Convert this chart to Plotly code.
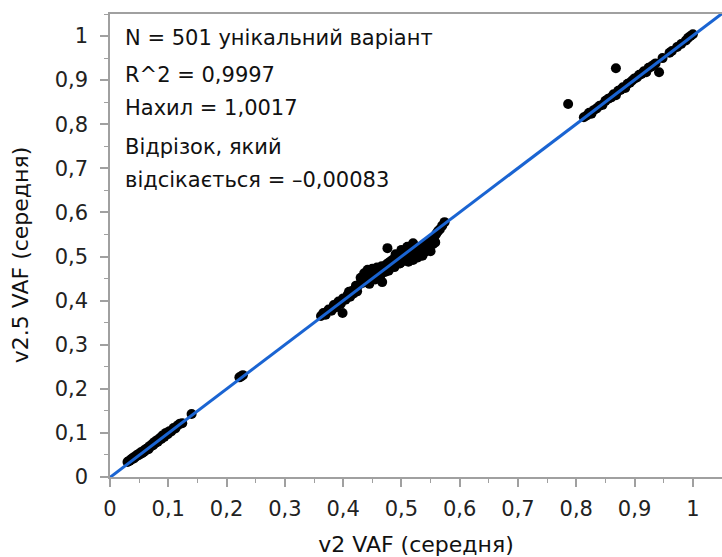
import plotly.graph_objects as go

# ---- data ----
low_x = [0.030, 0.032, 0.034, 0.036, 0.038, 0.040, 0.041, 0.043, 0.045, 0.046, 0.048, 0.050, 0.051,
         0.053, 0.055, 0.056, 0.058, 0.060, 0.061, 0.063, 0.065, 0.066, 0.068, 0.070, 0.072, 0.074,
         0.076, 0.078, 0.080, 0.082, 0.085, 0.088, 0.090, 0.093, 0.096, 0.099, 0.102, 0.105, 0.109,
         0.112, 0.116, 0.120, 0.124, 0.140, 0.222, 0.225, 0.228]
low_y = [0.034, 0.036, 0.037, 0.040, 0.041, 0.044, 0.042, 0.046, 0.047, 0.050, 0.049, 0.053, 0.051,
         0.056, 0.054, 0.058, 0.057, 0.062, 0.060, 0.064, 0.066, 0.063, 0.070, 0.069, 0.074, 0.072,
         0.079, 0.077, 0.083, 0.080, 0.088, 0.086, 0.094, 0.091, 0.100, 0.097, 0.104, 0.103, 0.111,
         0.110, 0.117, 0.121, 0.122, 0.143, 0.226, 0.228, 0.231]

mid_x = [0.362, 0.366, 0.370, 0.375, 0.380, 0.384, 0.388, 0.392, 0.396, 0.399, 0.400, 0.404, 0.408,
         0.412, 0.415, 0.418, 0.421, 0.424, 0.427, 0.430, 0.433, 0.436, 0.438, 0.440, 0.442, 0.444,
         0.446, 0.448, 0.450, 0.452, 0.454, 0.456, 0.458, 0.460, 0.462, 0.464, 0.467, 0.466, 0.468,
         0.470, 0.472, 0.474, 0.476, 0.476, 0.478, 0.480, 0.482, 0.484, 0.486, 0.488, 0.490, 0.492,
         0.494, 0.496, 0.498, 0.500, 0.502, 0.504, 0.506, 0.508, 0.510, 0.512, 0.514, 0.516, 0.518,
         0.520, 0.522, 0.524, 0.526, 0.528, 0.530, 0.532, 0.534, 0.536, 0.538, 0.540, 0.542, 0.544,
         0.546, 0.548, 0.550, 0.552, 0.554, 0.556, 0.558, 0.560, 0.563, 0.566, 0.570, 0.574,
         0.410, 0.422, 0.434, 0.445, 0.455, 0.463, 0.478, 0.488, 0.497, 0.505, 0.515, 0.525,
         0.535, 0.545, 0.490, 0.500, 0.510, 0.520]
mid_y = [0.365, 0.372, 0.368, 0.380, 0.377, 0.390, 0.385, 0.398, 0.393, 0.372, 0.405, 0.402, 0.414,
         0.409, 0.422, 0.416, 0.428, 0.421, 0.436, 0.452, 0.440, 0.462, 0.445, 0.455, 0.470, 0.448,
         0.460, 0.452, 0.472, 0.458, 0.466, 0.455, 0.475, 0.462, 0.470, 0.458, 0.442, 0.478, 0.466,
         0.474, 0.465, 0.482, 0.519, 0.470, 0.486, 0.474, 0.490, 0.478, 0.494, 0.482, 0.497, 0.486,
         0.490, 0.500, 0.485, 0.505, 0.490, 0.496, 0.508, 0.494, 0.502, 0.488, 0.510, 0.498, 0.504,
         0.492, 0.515, 0.500, 0.508, 0.498, 0.520, 0.505, 0.512, 0.502, 0.524, 0.510, 0.518, 0.530,
         0.515, 0.522, 0.512, 0.536, 0.528, 0.540, 0.532, 0.552, 0.558, 0.562, 0.570, 0.578,
         0.420, 0.434, 0.448, 0.438, 0.448, 0.452, 0.468, 0.476, 0.484, 0.492, 0.500, 0.510,
         0.520, 0.528, 0.505, 0.515, 0.522, 0.530]

high_x = [0.786, 0.813, 0.818, 0.822, 0.826, 0.830, 0.835, 0.840, 0.845, 0.850, 0.855, 0.860, 0.864,
          0.868, 0.868, 0.872, 0.876, 0.880, 0.884, 0.888, 0.892, 0.896, 0.900, 0.904, 0.908, 0.912,
          0.916, 0.920, 0.924, 0.928, 0.932, 0.936, 0.942, 0.948, 0.960, 0.964, 0.973, 0.980, 0.988,
          0.992, 0.996, 1.000]
high_y = [0.846, 0.816, 0.820, 0.826, 0.824, 0.832, 0.836, 0.842, 0.844, 0.853, 0.858, 0.861, 0.868,
          0.927, 0.866, 0.876, 0.878, 0.884, 0.882, 0.892, 0.894, 0.899, 0.904, 0.906, 0.912, 0.914,
          0.920, 0.918, 0.928, 0.930, 0.934, 0.938, 0.918, 0.950, 0.962, 0.966, 0.975, 0.982, 0.990,
          0.996, 1.000, 1.004]

slope = 1.0017
intercept = -0.00083
fit_x = [0.0, 1.06]

tick_vals = [0, 0.1, 0.2, 0.3, 0.4, 0.5, 0.6, 0.7, 0.8, 0.9, 1.0]
tick_text = ["0", "0,1", "0,2", "0,3", "0,4", "0,5", "0,6", "0,7", "0,8", "0,9", "1"]

stats_lines = ["N = 501 унікальний варіант", "R^2 = 0,9997", "Нахил = 1,0017",
               "Відрізок, який", "відсікається = –0,00083"]
stats_y = [0.995, 0.912, 0.837, 0.748, 0.673]

x_title = "v2 VAF (середня)"
y_title = "v2.5 VAF (середня)"

# ---- figure ----
FONT = "DejaVu Sans, Liberation Sans, sans-serif"
all_x = low_x + mid_x + high_x
all_y = low_y + mid_y + high_y

fig = go.Figure()
fig.add_trace(go.Scatter(x=all_x, y=all_y, mode="markers",
                         marker=dict(color="black", size=10, line=dict(width=0)),
                         showlegend=False, hoverinfo="skip"))
fig.add_trace(go.Scatter(x=fit_x, y=[slope * v + intercept for v in fit_x], mode="lines",
                         line=dict(color="#1a64d2", width=3), showlegend=False,
                         hoverinfo="skip"))

for txt, yy in zip(stats_lines, stats_y):
    fig.add_annotation(x=0.022, y=yy, xref="x", yref="y", text=txt, showarrow=False,
                       xanchor="left", yanchor="middle",
                       font=dict(family=FONT, size=21, color="#111"))

# y-axis title (placed as rotated text to match the reference position)
fig.add_annotation(x=0, xref="paper", xshift=-90, y=0.503, yref="y", text=y_title,
                   textangle=-90, showarrow=False, xanchor="center", yanchor="middle",
                   font=dict(family=FONT, size=22, color="#111"))

axis_common = dict(
    showgrid=False, zeroline=False, showline=True, linecolor="#a0a0a0", linewidth=1.5,
    ticks="outside", ticklen=8, tickwidth=1.5, tickcolor="#a0a0a0",
    tickvals=tick_vals, ticktext=tick_text,
    tickfont=dict(family=FONT, size=21, color="#222"),
    minor=dict(ticks="outside", ticklen=4, tickwidth=1.2, tickcolor="#a0a0a0", dtick=0.05,
               showgrid=False),
)

fig.update_xaxes(range=[0, 1.05], mirror=True, ticklabelstandoff=4, **axis_common,
                 title=dict(text=x_title, standoff=18,
                            font=dict(family=FONT, size=22, color="#111")))
fig.update_yaxes(range=[0, 1.05], mirror=False, ticklabelstandoff=8, **axis_common)

fig.update_layout(width=722, height=557, margin=dict(l=110, r=0, t=14, b=80),
                  plot_bgcolor="white", paper_bgcolor="white")

fig.write_html("out.html")
